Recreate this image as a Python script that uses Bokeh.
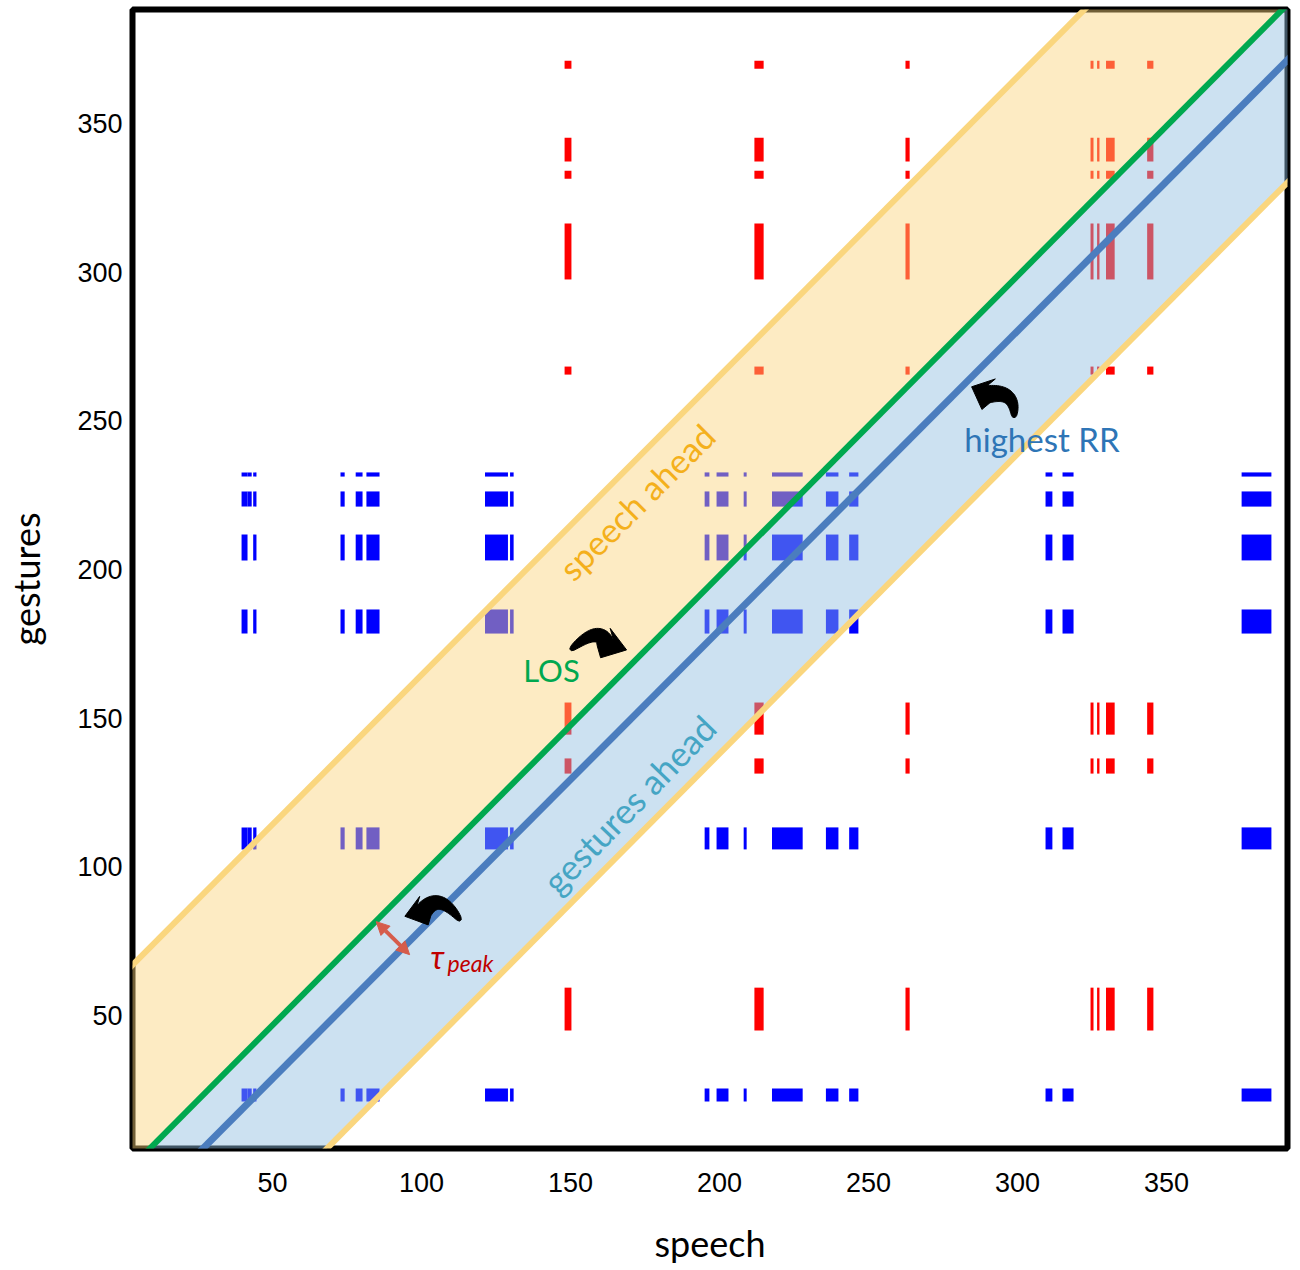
import numpy as np
from bokeh.plotting import figure
from bokeh.models import Range1d, FixedTicker, Arrow, NormalHead
from bokeh.embed import file_html
from bokeh.resources import INLINE
from bokeh.core.properties import value

# ---------------- data ----------------
# speech events (x) that recur with "blue" gesture events
blue_speech_start = [39.6, 41.6, 43.5, 72.8, 77.9, 81.5, 121.3, 129.7, 195.0, 199.0, 208.1,
                     217.6, 235.7, 243.5, 309.4, 315.1, 375.2]
blue_speech_end = [41.6, 43.0, 44.6, 74.2, 80.2, 85.9, 129.0, 130.9, 196.6, 203.0, 209.1,
                   227.9, 239.9, 246.6, 311.7, 318.8, 385.2]
blue_speech_code = ["a", "b", "a", "a", "a", "a", "a", "a", "a", "a", "a",
                    "a", "a", "a", "a", "a", "a"]
# gesture events (y) of the blue kind, and the speech codes they match
blue_gesture_start = [231.3, 221.2, 203.1, 178.5, 105.9, 21.1]
blue_gesture_end = [232.7, 226.3, 211.8, 186.6, 113.3, 25.5]
blue_gesture_codes = ["ab", "ab", "a", "a", "ab", "ab"]

# red recurrences
red_speech_start = [148.0, 211.7, 262.4, 324.5, 326.7, 329.7, 343.5]
red_speech_end = [150.3, 214.8, 263.8, 325.5, 327.5, 332.6, 345.6]
red_gesture_start = [368.5, 337.3, 331.5, 297.6, 265.6, 144.5, 131.4, 45.0]
red_gesture_end = [371.2, 345.3, 334.2, 316.4, 268.3, 155.3, 136.5, 59.4]

# diagonal reference lines: (intercept, slope)
band_upper = (64.0, 1.006)
los_line = (-3.6, 1.008)
rr_line = (-21.5, 1.006)
band_lower = (-63.5, 1.008)

x_ticks = [50, 100, 150, 200, 250, 300, 350]
y_ticks = [50, 100, 150, 200, 250, 300, 350]

X0, X1 = 3.0, 390.6
Y0, Y1 = 5.3, 388.4

# ---------------- figure ----------------
p = figure(frame_width=1155, frame_height=1139, output_backend="svg", toolbar_location=None,
           x_range=Range1d(X0, X1), y_range=Range1d(Y0, Y1),
           min_border_left=132, min_border_top=9, min_border_right=5, min_border_bottom=118)
p.background_fill_color = "white"
p.border_fill_color = "white"
p.outline_line_color = "black"
p.outline_line_width = 6
p.grid.visible = False

# recurrence rectangles
bl, br, bb, bt = [], [], [], []
for s0, s1, sc in zip(blue_speech_start, blue_speech_end, blue_speech_code):
    for g0, g1, gc in zip(blue_gesture_start, blue_gesture_end, blue_gesture_codes):
        if sc in gc:
            bl.append(s0); br.append(s1); bb.append(g0); bt.append(g1)
p.quad(left=bl, right=br, bottom=bb, top=bt, fill_color="#0000FF", line_color=None)

rl, rr, rb, rt = [], [], [], []
for s0, s1 in zip(red_speech_start, red_speech_end):
    for g0, g1 in zip(red_gesture_start, red_gesture_end):
        rl.append(s0); rr.append(s1); rb.append(g0); rt.append(g1)
p.quad(left=rl, right=rr, bottom=rb, top=rt, fill_color="#FF0000", line_color=None)

# bands
xs = np.array([X0 - 5, X1 + 5])
def line_y(spec):
    return spec[0] + spec[1] * xs

p.varea(x=xs, y1=line_y(los_line), y2=line_y(band_upper), fill_color="#FAD27A", fill_alpha=0.45)
p.varea(x=xs, y1=line_y(band_lower), y2=line_y(los_line), fill_color="#8FBDDF", fill_alpha=0.45)
p.line(xs, line_y(band_upper), line_color="#FAD67E", line_width=6)
p.line(xs, line_y(band_lower), line_color="#FAD67E", line_width=6)
p.line(xs, line_y(los_line), line_color="#00A84F", line_width=6)
p.line(xs, line_y(rr_line), line_color="#4B7DBE", line_width=7)

# ---------------- annotations ----------------
def curved_arrow(tail, ctrl, base, tip, w0, w1, hh):
    s = np.linspace(0, 1, 30)
    t = np.array(tail, float); c = np.array(ctrl, float); b = np.array(base, float)
    tp = np.array(tip, float)
    pts = ((1 - s) ** 2)[:, None] * t + (2 * (1 - s) * s)[:, None] * c + (s ** 2)[:, None] * b
    der = (2 * (1 - s))[:, None] * (c - t) + (2 * s)[:, None] * (b - c)
    nrm = np.stack([-der[:, 1], der[:, 0]], axis=1)
    nrm /= np.linalg.norm(nrm, axis=1)[:, None]
    w = (w0 + (w1 - w0) * s ** 0.5)[:, None] / 2
    left = pts + nrm * w
    right = pts - nrm * w
    d = tp - b
    d /= np.linalg.norm(d)
    n = np.array([-d[1], d[0]])
    if np.dot(n, nrm[-1]) < 0:
        n = -n
    h1 = b + n * hh
    h2 = b - n * hh
    poly = np.vstack([left, h1, tp, h2, right[::-1]])
    return list(poly[:, 0]), list(poly[:, 1])

arrows = [
    curved_arrow((150.0, 173.0), (159.5, 181.5), (161.7, 175.3), (168.8, 173.0), 0.8, 5.8, 5.2),
    curved_arrow((113.0, 82.0), (106.0, 92.0), (100.8, 85.3), (94.4, 83.4), 0.8, 5.8, 5.0),
    curved_arrow((298.8, 251.2), (299.5, 260.5), (290.3, 259.0), (284.6, 261.5), 0.8, 5.8, 5.6),
]
p.patches(xs=[a[0] for a in arrows], ys=[a[1] for a in arrows],
          fill_color="black", line_color="black", line_width=1)

# tau peak double arrow
p.add_layout(Arrow(x_start=84.8, y_start=81.6, x_end=96.0, y_end=70.5,
                   line_color="#D65C4B", line_width=4,
                   start=NormalHead(size=13, fill_color="#D65C4B", line_color="#D65C4B"),
                   end=NormalHead(size=13, fill_color="#D65C4B", line_color="#D65C4B")))

def label(x, y, txt, color, size, angle=0.0, style="normal", align="center", baseline="middle"):
    p.text(x=[x], y=[y], text=[txt], text_color=color, text_font=value("Lato"),
           text_font_size=f"{size}px", text_font_style=style, angle=angle, angle_units="deg",
           text_align=align, text_baseline=baseline)

label(172.1, 222.9, "speech ahead", "#F4B01C", 34, angle=45)
label(170.6, 122.3, "gestures  ahead", "#45A5C4", 35, angle=46)
label(143.6, 166.4, "LOS", "#00A84F", 31)
label(308.2, 244.1, "highest RR", "#2E75B6", 33)
label(103.0, 69.9, "τ", "#C00000", 32, style="italic", align="left", baseline="alphabetic")
label(108.7, 67.6, "peak", "#C00000", 23, style="italic", align="left", baseline="alphabetic")

# ---------------- axes ----------------
p.xaxis.ticker = FixedTicker(ticks=x_ticks)
p.yaxis.ticker = FixedTicker(ticks=y_ticks)
for ax in (p.xaxis[0], p.yaxis[0]):
    ax.axis_line_color = None
    ax.major_tick_line_color = None
    ax.minor_tick_line_color = None
    ax.major_tick_out = 0
    ax.major_tick_in = 0
    ax.major_label_text_font = "Liberation Sans"
    ax.major_label_text_font_size = "27px"
    ax.major_label_text_color = "black"
    ax.axis_label_text_font = "Lato"
    ax.axis_label_text_font_size = "36px"
    ax.axis_label_text_font_style = "normal"
    ax.axis_label_text_color = "black"
p.xaxis.axis_label = "speech"
p.yaxis.axis_label = "gestures"
p.xaxis.major_label_standoff = 24
p.yaxis.major_label_standoff = 10
p.xaxis.axis_label_standoff = 26
p.yaxis.axis_label_standoff = 26

open("out.html", "w").write(file_html(p, INLINE))
